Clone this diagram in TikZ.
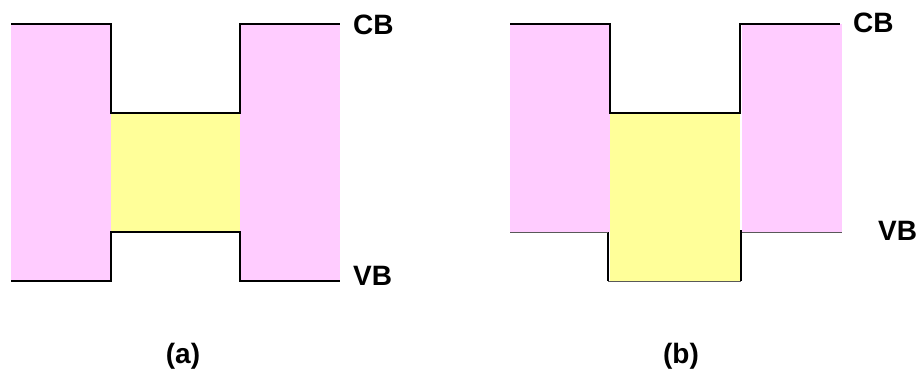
\documentclass[tikz,border=0pt]{standalone}
\usepackage{fontspec}
\setmainfont{Liberation Sans}
\definecolor{barrier}{HTML}{FFCCFF}
\definecolor{well}{HTML}{FFFF99}

\begin{document}
\begin{tikzpicture}[x=1pt,y=-1pt]
\useasboundingbox (0,0) rectangle (920,372);

% (a) well with barriers both sides
\fill[barrier] (11,24) rectangle (111,281);
\fill[well] (111,113) rectangle (240,232);
\fill[barrier] (240,24) rectangle (340,281);
\begin{scope}[line width=1.6pt]
    \draw (11,24) -- (111,24) -- (111,113) -- (240,113) -- (240,24) -- (340,24);
    \draw (11,281) -- (111,281) -- (111,232) -- (240,232) -- (240,281) -- (340,281);
\end{scope}

% (b) staggered alignment
\fill[barrier] (510,24) rectangle (610,232);
\fill[well] (610,113) rectangle (740,281);
\fill[barrier] (742,24) rectangle (842,232);
\begin{scope}[line width=1.6pt]
    \draw (510,24) -- (610,24) -- (610,113) -- (740,113) -- (740,24) -- (840,24);
    \draw (608,232) -- (608,281);
    \draw (741,230) -- (741,281);
\end{scope}
\begin{scope}[draw=gray!70!black, line width=0.8pt]
    \draw (510,232) -- (608,232);
    \draw (742,232) -- (842,232);
    \draw (608,281) -- (741,281);
\end{scope}

\begin{scope}[every node/.style={font=\bfseries\fontsize{28}{28}\selectfont, inner sep=0pt}]
    \node[anchor=west] (cbA) at (353,25) {CB};
    \node[anchor=west] (vbA) at (353,276) {VB};
    \node[anchor=west] (cbB) at (853,23) {CB};
    \node[anchor=west] (vbB) at (878,231) {VB};
    \node (capA) at (183,356) {(a)};
    \node (capB) at (681,356) {(b)};
\end{scope}
\end{tikzpicture}
\end{document}
